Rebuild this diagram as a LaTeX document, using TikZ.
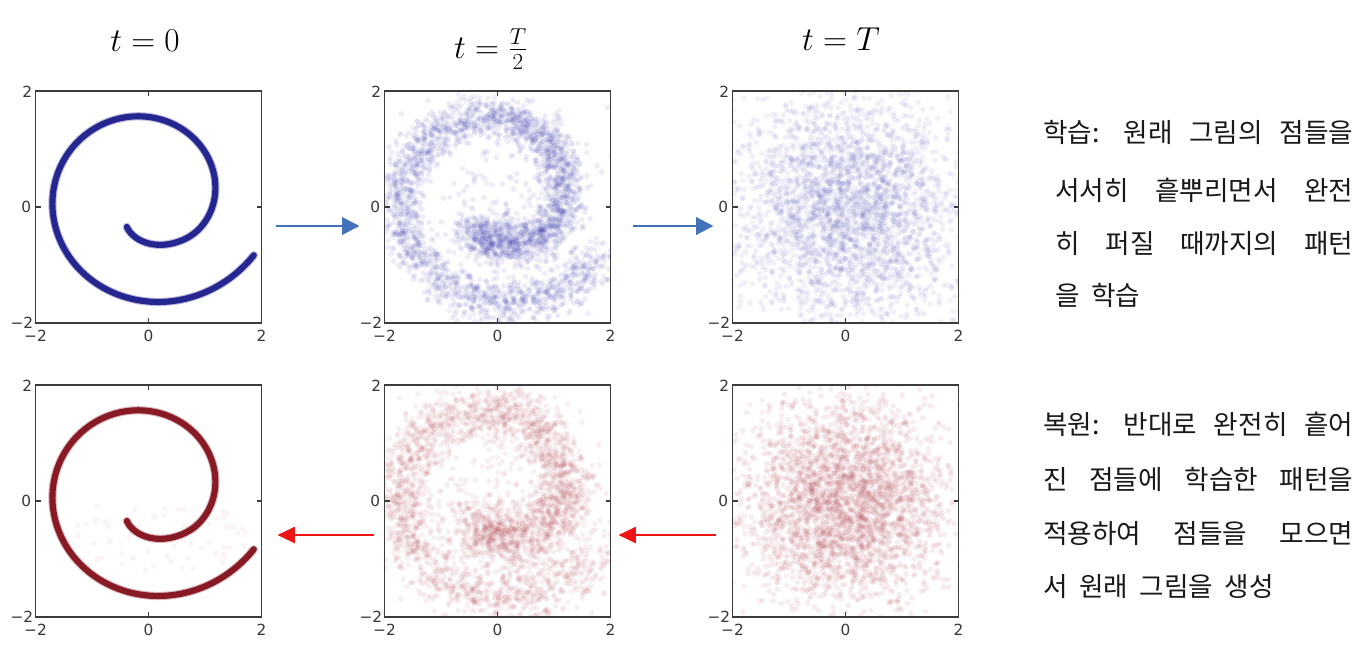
\documentclass[tikz,border=0pt]{standalone}
\usepackage{fontspec}
\usetikzlibrary{arrows.meta,calc}
\newfontfamily\krfont[WordSpace=1.9]{Noto Sans CJK KR}
\newfontfamily\tickfont{DejaVu Sans}
\definecolor{spblue}{RGB}{38,38,145}
\definecolor{spred}{RGB}{135,26,36}
\definecolor{dotblue}{RGB}{60,60,175}
\definecolor{dotred}{RGB}{170,50,60}
\definecolor{arrblue}{RGB}{66,114,186}
\definecolor{arrred}{RGB}{236,20,20}
\definecolor{framecol}{RGB}{60,60,60}

% frame, ticks and tick labels of one plot: name, centre x, centre y (pixels)
\newcommand\plotframe[3]{%
  \node[pframe] (#1) at (#2,#3) {};
  \draw[ptick] (#1.north) -- ++(0,5);
  \draw[ptick] (#1.south) -- ++(0,-5);
  \draw[ptick] (#1.west) -- ++(5,0);
  \draw[ptick] (#1.east) -- ++(-5,0);
  \node[tlabel,anchor=east] (#1-ly2) at ($(#1.north west)+(-3,1)$) {2};
  \node[tlabel,anchor=east] (#1-ly0) at ($(#1.west)+(-4,0)$) {0};
  \node[tlabel,anchor=east] (#1-lym) at ($(#1.south west)+(-2,0)$) {−2};
  \node[tlabel] (#1-lxm) at ($(#1.south west)+(0,13)$) {−2};
  \node[tlabel] (#1-lx0) at ($(#1.south)+(0,13)$) {0};
  \node[tlabel] (#1-lx2) at ($(#1.south east)+(0,13)$) {2};
}
% noisy points along the spiral: layers, dots per layer, sigma, style
\newcommand\spiralnoise[4]{%
  \foreach \j in {1,...,#1}{%
    \draw[#4] \foreach \i [evaluate=\i as \spP using 215+471*rnd,
                          evaluate=\i as \spR using -0.285+0.00372*\spP,
                          evaluate=\i as \spF using 0.5*((300-\spP)/85+abs((300-\spP)/85))] in {1,...,#2}{
      ({0.255-0.00039*\spP+\spR*cos(\spP)-0.13*\spF+#3*(rand+rand+rand)},
       {-0.119+0.000731*\spP+0.9575*\spR*sin(\spP)-0.1*\spF+#3*(rand+rand+rand)}) -- ++(0.1pt,0pt)};
  }%
}
% gaussian cloud: layers, dots per layer, sigma, style
\newcommand\gaussnoise[4]{%
  \foreach \j in {1,...,#1}{%
    \draw[#4] \foreach \i in {1,...,#2}{
      ({#3*(rand+rand+rand)},{#3*(rand+rand+rand)}) -- ++(0.1pt,0pt)};
  }%
}

\begin{document}
\begin{tikzpicture}[x=0.75pt,y=-0.75pt,
  pframe/.style={draw=framecol,line width=1.2pt,minimum width=169.5pt,minimum height=174pt,inner sep=0pt,outer sep=0pt},
  ptick/.style={draw=framecol,line width=1pt},
  tlabel/.style={font=\tickfont\fontsize{11.5pt}{13pt}\selectfont,text=black!78,inner sep=0pt},
  ttl/.style={font=\fontsize{23.5pt}{28pt}\selectfont,inner sep=0pt,anchor=base},
  krtext/.style={font=\krfont\fontsize{20pt}{24pt}\selectfont,text=black!90,inner sep=0pt,anchor=base west},
  barrow/.style={draw=arrblue,line width=1.6pt,-{Triangle[length=13pt,width=13pt]}},
  rarrow/.style={draw=arrred,line width=1.6pt,-{Triangle[length=13pt,width=12pt]}},
  spline/.style={line width=4.6pt,line cap=round,line join=round},
  halo/.style={line width=6.2pt,line cap=round,line join=round,opacity=0.3},
  dotstyle/.style={line width=4.0pt,line cap=round},
  dotb/.style={dotstyle,draw=dotblue,draw opacity=0.09},
  dotbc/.style={dotstyle,draw=dotblue!85,draw opacity=0.09},
  dotr/.style={dotstyle,draw=dotred,draw opacity=0.075},
  dotrc/.style={dotstyle,draw=dotred,draw opacity=0.085},
  dotrf/.style={dotstyle,draw=dotred!70,draw opacity=0.07}]
\pgfmathsetseed{4242}
\fill[white] (0,0) rectangle (1371,647);
\useasboundingbox (0,0) rectangle (1371,647);

% titles
\node[ttl] (tA) at (145,51) {$t=0$};
\node[ttl] (tB) at (491,58) {$t=\frac{T}{2}$};
\node[ttl] (tC) at (841,50) {$t=T$};

% ---------- plot A: t=0 blue spiral
\begin{scope}[shift={(148.5,207)}]
\begin{scope}[x=42.375pt,y=43.5pt]
\clip (-2,-2) rectangle (2,2);
\draw[halo,spblue] plot[domain=215:686,samples=170,smooth,variable=\p]
  ({0.255-0.00039*\p+(-0.285+0.00372*\p)*cos(\p)-0.065*((300-\p)/85+abs((300-\p)/85))},{-0.119+0.000731*\p+0.9575*(-0.285+0.00372*\p)*sin(\p)-0.05*((300-\p)/85+abs((300-\p)/85))});
\draw[spline,spblue] plot[domain=215:686,samples=170,smooth,variable=\p]
  ({0.255-0.00039*\p+(-0.285+0.00372*\p)*cos(\p)-0.065*((300-\p)/85+abs((300-\p)/85))},{-0.119+0.000731*\p+0.9575*(-0.285+0.00372*\p)*sin(\p)-0.05*((300-\p)/85+abs((300-\p)/85))});
\end{scope}
\end{scope}

% ---------- plot B: t=T/2 blue
\begin{scope}[shift={(497.5,207)}]
\begin{scope}[x=42.375pt,y=43.5pt]
\clip (-2,-2) rectangle (2,2);
\spiralnoise{75}{40}{0.19}{dotb}
\gaussnoise{5}{40}{0.9}{dotb}
\end{scope}
\end{scope}

% ---------- plot C: t=T blue
\begin{scope}[shift={(845.5,207)}]
\begin{scope}[x=42.375pt,y=43.5pt]
\clip (-2,-2) rectangle (2,2);
\gaussnoise{75}{40}{1.0}{dotbc}
\end{scope}
\end{scope}

% ---------- plot D: t=0 red spiral
\begin{scope}[shift={(148.5,501)}]
\begin{scope}[x=42.375pt,y=43.5pt]
\clip (-2,-2) rectangle (2,2);
\draw[dotrf] \foreach \i in {1,...,70}{ ({0.15+1.6*rand},{-0.65+0.6*rand}) -- ++(0.1pt,0pt)};
\draw[halo,spred] plot[domain=215:686,samples=170,smooth,variable=\p]
  ({0.255-0.00039*\p+(-0.285+0.00372*\p)*cos(\p)-0.065*((300-\p)/85+abs((300-\p)/85))},{-0.119+0.000731*\p+0.9575*(-0.285+0.00372*\p)*sin(\p)-0.05*((300-\p)/85+abs((300-\p)/85))});
\draw[spline,spred] plot[domain=215:686,samples=170,smooth,variable=\p]
  ({0.255-0.00039*\p+(-0.285+0.00372*\p)*cos(\p)-0.065*((300-\p)/85+abs((300-\p)/85))},{-0.119+0.000731*\p+0.9575*(-0.285+0.00372*\p)*sin(\p)-0.05*((300-\p)/85+abs((300-\p)/85))});
\end{scope}
\end{scope}

% ---------- plot E: t=T/2 red
\begin{scope}[shift={(497.5,501)}]
\begin{scope}[x=42.375pt,y=43.5pt]
\clip (-2,-2) rectangle (2,2);
\spiralnoise{72}{40}{0.24}{dotr}
\gaussnoise{8}{40}{0.9}{dotr}
\end{scope}
\end{scope}

% ---------- plot F: t=T red
\begin{scope}[shift={(845.5,501)}]
\begin{scope}[x=42.375pt,y=43.5pt]
\clip (-2,-2) rectangle (2,2);
\gaussnoise{75}{40}{0.85}{dotrc}
\end{scope}
\end{scope}

% frames
\plotframe{pA}{148.5}{207}
\plotframe{pB}{497.5}{207}
\plotframe{pC}{845.5}{207}
\plotframe{pD}{148.5}{501}
\plotframe{pE}{497.5}{501}
\plotframe{pF}{845.5}{501}

% arrows
\draw[barrow] ($(pA.east)+(14,19)$) -- ($(pB.west)+(-25,19)$);
\draw[barrow] ($(pB.east)+(22,19)$) -- ($(pC.west)+(-19,19)$);
\draw[rarrow] ($(pE.west)+(-11,34)$) -- ($(pD.east)+(16,34)$);
\draw[rarrow] ($(pF.west)+(-17,34)$) -- ($(pE.east)+(8,34)$);

% texts
\node[krtext] (k1) at (1043,142) {\makebox[232.5pt][s]{학습: 원래 그림의 점들을}};
\node[krtext] (k2) at (1055,200) {\makebox[223.5pt][s]{서서히 흩뿌리면서 완전}};
\node[krtext] (k3) at (1055,253) {\makebox[223.5pt][s]{히 퍼질 때까지의 패턴}};
\node[krtext] (k4) at (1055,305) {을 학습};
\node[krtext] (k5) at (1043,434) {\makebox[232.5pt][s]{복원: 반대로 완전히 흩어}};
\node[krtext] (k6) at (1043,489) {\makebox[232.5pt][s]{진 점들에 학습한 패턴을}};
\node[krtext] (k7) at (1043,543) {\makebox[232.5pt][s]{적용하여 점들을 모으면}};
\node[krtext] (k8) at (1043,596) {서 원래 그림을 생성};
\end{tikzpicture}
\end{document}
